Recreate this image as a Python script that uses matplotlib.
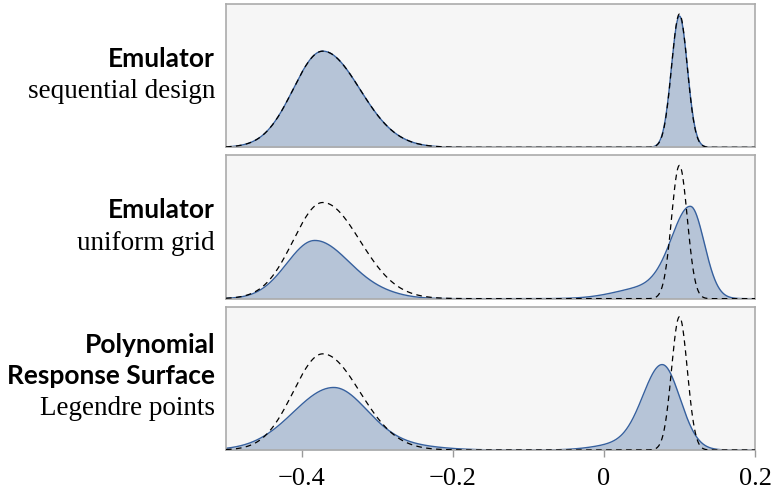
import numpy as np
import matplotlib
matplotlib.use("Agg")
import matplotlib.pyplot as plt

# Posterior density bumps: (peak height, mode, left spread, right spread)
reference_bumps = [(6.71, -0.372, 0.039, 0.049), (9.30, 0.100, 0.0104, 0.0104)]
seq_design_bumps = [(6.71, -0.372, 0.039, 0.049), (9.16, 0.100, 0.0106, 0.0106)]
uniform_grid_bumps = [(4.06, -0.3825, 0.037, 0.0465), (0.15, -0.29, 0.03, 0.03),
                      (6.29, 0.115, 0.025, 0.018), (0.80, 0.06, 0.042, 0.03)]
legendre_bumps = [(4.34, -0.358, 0.053, 0.045), (0.25, -0.26, 0.045, 0.045),
                  (5.87, 0.0777, 0.0257, 0.0233), (0.42, 0.025, 0.035, 0.03)]

panel_titles = [["Emulator"], ["Emulator"], ["Polynomial", "Response Surface"]]
panel_subtitles = ["sequential design", "uniform grid", "Legendre points"]
panel_bumps = [seq_design_bumps, uniform_grid_bumps, legendre_bumps]

x_ticks = [-0.4, -0.2, 0.0, 0.2]
x_tick_labels = ["\u22120.4", "\u22120.2", "0", "0.2"]


def density(x, bumps):
    y = np.zeros_like(x)
    for h, mu, sl, sr in bumps:
        s = np.where(x < mu, sl, sr)
        y += h * np.exp(-0.5 * ((x - mu) / s) ** 2)
    return y


x = np.linspace(-0.5, 0.2, 1400)
ref = density(x, reference_bumps)

fill_color = "#b6c4d7"
line_color = "#36609e"
bg_color = "#f6f6f6"
spine_color = "#ababab"

fig, axes = plt.subplots(3, 1, figsize=(7.75, 4.89), dpi=100, sharex=True)
fig.subplots_adjust(left=226 / 775, right=755 / 775, top=1 - 5 / 489,
                    bottom=1 - 451 / 489, hspace=0.056)

serif = "Liberation Serif"
sans_bold = "Lato"

for ax, bumps in zip(axes, panel_bumps):
    y = density(x, bumps)
    ax.set_facecolor(bg_color)
    ax.fill_between(x, 0, y, color=fill_color, lw=0, zorder=1)
    ax.plot(x, y, color=line_color, lw=1.0, zorder=2)
    ax.plot(x, ref, color="black", lw=0.9, dashes=(4.5, 3.5), zorder=3)
    ax.set_xlim(-0.5, 0.2)
    ax.set_ylim(0, 10.0)
    ax.set_yticks([])
    for sp in ax.spines.values():
        sp.set_color(spine_color)
        sp.set_linewidth(1.2)
    ax.tick_params(axis="x", length=0)

axes[-1].set_xticks(x_ticks)
axes[-1].set_xticklabels(x_tick_labels, fontfamily=serif, fontsize=19)
axes[-1].tick_params(axis="x", length=5, width=1, color="#9a9a9a", pad=7)

# Row labels on the left, right-aligned against the panels
label_x = 215 / 775
title_baselines = [[67], [218], [353, 384]]
subtitle_baselines = [98, 250, 415]
for titles, tys, sub, sy in zip(panel_titles, title_baselines,
                                panel_subtitles, subtitle_baselines):
    for t, ty in zip(titles, tys):
        fig.text(label_x, 1 - ty / 489, t, ha="right", va="baseline",
                 fontfamily=sans_bold, fontweight="bold", fontsize=19)
    fig.text(label_x, 1 - sy / 489, sub, ha="right", va="baseline",
             fontfamily=serif, fontsize=19.5)

fig.savefig("out.png", dpi=100)
